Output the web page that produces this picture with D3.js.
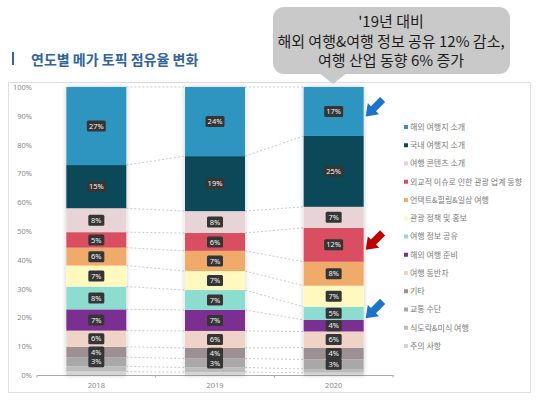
<!DOCTYPE html>
<html>
<head>
<meta charset="utf-8">
<script src="https://cdn.jsdelivr.net/npm/d3@7"></script>
<style>
  html, body { margin: 0; padding: 0; background: #fff; }
  svg { display: block; font-family: "Noto Sans", "Noto Sans CJK KR", sans-serif; }
</style>
</head>
<body>
<script>
/* DATA */
var years  = ['2018', '2019', '2020'];
var topics = ['해외 여행지 소개', '국내 여행지 소개', '여행 콘텐츠 소개',
              '외교적 이슈로 인한 관광 업계 동향', '언택트&힐링&일상 여행', '관광 정책 및 홍보',
              '여행 정보 공유', '해외 여행 준비', '여행 동반자', '기타', '교통 수단',
              '식도락&미식 여행', '주의 사항'];
var share2018 = [27.1, 15.0, 8.3, 5.4, 6.2, 7.3, 7.9, 7.4, 5.6, 3.6, 3.2, 1.8, 1.2];
var share2019 = [24.0, 19.1, 7.6, 6.2, 7.0, 6.6, 6.9, 7.3, 5.9, 3.7, 3.1, 1.6, 1.0];
var share2020 = [17.0, 24.6, 7.3, 11.8, 8.3, 7.3, 4.6, 4.0, 5.6, 4.1, 3.3, 1.3, 0.8];
var yTicks = [0, 10, 20, 30, 40, 50, 60, 70, 80, 90, 100];
var calloutLines = ["'19년 대비", '해외 여행&여행 정보 공유 12% 감소,', '여행 산업 동향 6% 증가'];
var arrowTopics  = ['해외 여행지 소개', '외교적 이슈로 인한 관광 업계 동향', '여행 정보 공유'];

/* STYLE */
var w = 541, h = 400;
var c = {
  title:   '#31639c',
  frame:   '#dedede',
  axis:    '#a8a8a8',
  tick:    '#8a8a8a',
  legend:  '#7a7a7a',
  dash:    '#a8a8a8',
  tag:     '#353535',
  bubble:  '#c9c9c9',
  blue:    '#1b74c9',
  red:     '#c00000',
};
var colors = ['#2e95c0', '#0b4858', '#e8d3d6', '#d94e60', '#f0ab6b', '#fff8bf',
              '#8cdccf', '#7a2f91', '#eed3c6', '#9d9090', '#a8a8a8', '#bcbcbc', '#d4d4d4'];
var arrowColors = [c.blue, c.red, c.blue];

/* SCALES */
var x = d3.scaleBand().domain(years).range([37, 393]).paddingInner(0.494).paddingOuter(0.247);
var y = d3.scaleLinear().domain([0, 100]).range([375, 87]);
var color = d3.scaleOrdinal().domain(topics).range(colors);

var rows = years.map(function(yr, i){
  var vals = [share2018, share2019, share2020][i];
  var row = { year: yr };
  topics.forEach(function(t, j){ row[t] = vals[j]; });
  return row;
});
// bottom of the stack is the last topic
var series = d3.stack().keys(topics.slice().reverse())(rows);

/* SVG */
var svg = d3.select('body').append('svg').attr('width', w).attr('height', h);

var defs = svg.append('defs');
defs.append('filter').attr('id', 'shadow')
    .attr('x', '-30%').attr('y', '-10%').attr('width', '160%').attr('height', '120%')
  .append('feDropShadow')
    .attr('dx', 0).attr('dy', 0).attr('stdDeviation', 2.5)
    .attr('flood-color', '#000').attr('flood-opacity', 0.22);

/* FRAME + TITLE */
svg.append('rect')
  .attr('x', 8.5).attr('y', 82.5).attr('width', 522).attr('height', 310)
  .attr('fill', 'none').attr('stroke', c.frame);

svg.append('rect')
  .attr('x', 12).attr('y', 52).attr('width', 2).attr('height', 13).attr('fill', c.title);
svg.append('text')
  .attr('x', 31).attr('y', 64.5)
  .attr('font-family', '"Noto Sans CJK KR", sans-serif')
  .attr('font-size', 14).attr('font-weight', 700).attr('fill', c.title)
  .text('연도별 메가 토픽 점유율 변화');

/* AXES */
var yAxis = svg.append('g')
  .attr('transform', 'translate(33,0)')
  .call(d3.axisLeft(y).tickValues(yTicks).tickFormat(function(d){ return d + '%'; }).tickSize(0).tickPadding(1));
yAxis.select('.domain').remove();
yAxis.selectAll('text').attr('font-size', 7.5).attr('fill', c.tick).attr('font-family', '"Noto Sans", sans-serif');

var xAxis = svg.append('g')
  .attr('transform', 'translate(0,' + y(0) + ')')
  .call(d3.axisBottom(x).tickSize(0).tickPadding(8));
xAxis.select('.domain').attr('stroke', c.axis).attr('stroke-width', 1.2);
xAxis.selectAll('text').attr('font-size', 7.5).attr('fill', c.tick).attr('font-family', '"Noto Sans", sans-serif');

// small ticks between categories
svg.append('g').selectAll('line')
  .data(d3.range(years.length + 1))
  .enter().append('line')
    .attr('x1', function(i){ return x.range()[0] + i * x.step(); })
    .attr('x2', function(i){ return x.range()[0] + i * x.step(); })
    .attr('y1', y(0)).attr('y2', y(0) + 2.5)
    .attr('stroke', c.axis);

/* CONNECTORS */
var links = [];
series.forEach(function(s){
  for (var i = 0; i < years.length - 1; i++){
    links.push({ a: s[i], b: s[i + 1] });
  }
});
svg.append('g').selectAll('line')
  .data(links)
  .enter().append('line')
    .attr('x1', function(d){ return x(d.a.data.year) + x.bandwidth(); })
    .attr('x2', function(d){ return x(d.b.data.year); })
    .attr('y1', function(d){ return y(d.a[1]); })
    .attr('y2', function(d){ return y(d.b[1]); })
    .attr('stroke', c.dash).attr('stroke-width', 0.6)
    .attr('stroke-dasharray', '2,2');

/* BARS */
svg.append('g').selectAll('rect')
  .data(years)
  .enter().append('rect')
    .attr('x', function(d){ return x(d); })
    .attr('y', y(100))
    .attr('width', x.bandwidth())
    .attr('height', y(0) - y(100))
    .attr('fill', '#fff')
    .attr('filter', 'url(#shadow)');

var layers = svg.append('g').selectAll('g')
  .data(series)
  .enter().append('g')
    .attr('fill', function(d){ return color(d.key); });

layers.selectAll('rect')
  .data(function(d){ return d; })
  .enter().append('rect')
    .attr('x', function(d){ return x(d.data.year); })
    .attr('y', function(d){ return y(d[1]); })
    .attr('width', x.bandwidth())
    .attr('height', function(d){ return y(d[0]) - y(d[1]); });

/* VALUE TAGS */
var tagData = [];
series.forEach(function(s){
  s.forEach(function(d){
    var v = d[1] - d[0];
    if (v >= 3) tagData.push({ year: d.data.year, mid: (d[0] + d[1]) / 2, label: Math.round(v) + '%' });
  });
});
var tags = svg.append('g').selectAll('g')
  .data(tagData)
  .enter().append('g')
    .attr('transform', function(d){
      return 'translate(' + (x(d.year) + x.bandwidth() / 2) + ',' + y(d.mid) + ')';
    });
tags.append('rect')
  .attr('x', function(d){ return d.label.length > 2 ? -9.5 : -8; })
  .attr('width', function(d){ return d.label.length > 2 ? 19 : 16; })
  .attr('y', -5.5).attr('height', 11).attr('rx', 1.5)
  .attr('fill', c.tag);
tags.append('text')
  .attr('text-anchor', 'middle').attr('dy', '0.35em')
  .attr('font-size', 7.5).attr('fill', '#f4f4f4')
  .text(function(d){ return d.label; });

/* ARROWS */
var lastYear = years[years.length - 1];
var arrowShape = 'M0,0 L-11,-8 L-11,-3.6 L-24,-3.6 L-24,3.6 L-11,3.6 L-11,8 Z';
svg.append('g').selectAll('path')
  .data(arrowTopics)
  .enter().append('path')
    .attr('d', arrowShape)
    .attr('fill', function(d, i){ return arrowColors[i]; })
    .attr('transform', function(t){
      var seg = series.find(function(s){ return s.key === t; })[years.length - 1];
      var tx = x(lastYear) + x.bandwidth() + 2;
      var ty = y((seg[0] + seg[1]) / 2) + 5;
      return 'translate(' + tx + ',' + ty + ') rotate(135)';
    });

/* LEGEND */
var legend = svg.append('g').selectAll('g')
  .data(topics)
  .enter().append('g')
    .attr('transform', function(d, i){ return 'translate(404,' + (127 + i * 18.25) + ')'; });
legend.append('rect')
  .attr('x', 0).attr('y', -2).attr('width', 4).attr('height', 4)
  .attr('fill', function(d){ return color(d); });
legend.append('text')
  .attr('x', 6).attr('dy', '0.35em')
  .attr('font-family', '"Noto Sans CJK KR", sans-serif')
  .attr('font-size', 8).attr('fill', c.legend)
  .text(function(d){ return d; });

/* CALLOUT */
var bubble = svg.append('g');
bubble.append('rect')
  .attr('x', 273).attr('y', 7).attr('width', 237).attr('height', 67).attr('rx', 11)
  .attr('fill', c.bubble);
bubble.append('path')
  .attr('d', 'M318,72 L348,72 L333,84 Z')
  .attr('fill', c.bubble);
bubble.selectAll('text')
  .data(calloutLines)
  .enter().append('text')
    .attr('x', 391)
    .attr('y', function(d, i){ return 27 + i * 19.5; })
    .attr('text-anchor', 'middle')
    .attr('font-family', '"Noto Sans CJK KR", sans-serif')
    .attr('font-size', 15).attr('fill', '#1c1c1c')
    .text(function(d){ return d; });
</script>
</body>
</html>
